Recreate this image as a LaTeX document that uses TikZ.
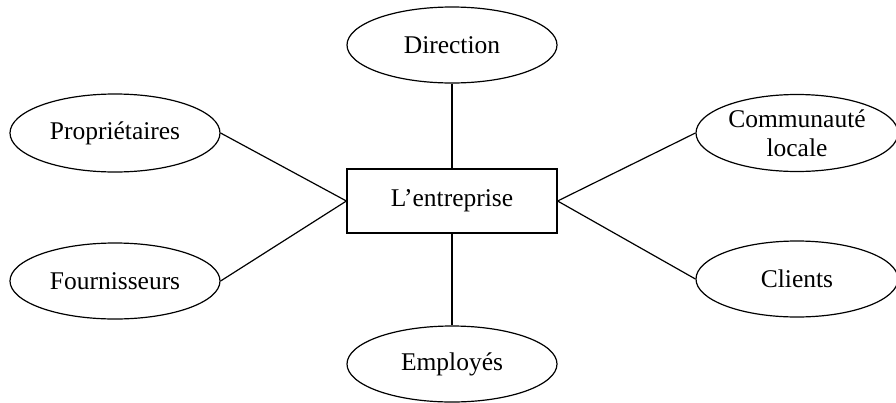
\documentclass[tikz,border=0pt]{standalone}
\usepackage{fontspec}
\setmainfont{Liberation Serif}
\usetikzlibrary{shapes.geometric}
\begin{document}
\begin{tikzpicture}[x=1pt,y=-1pt,
  every node/.style={font=\fontsize{25.5}{29}\selectfont, align=center, inner sep=0pt},
  party/.style={draw, line width=1.2pt, ellipse, minimum width=210pt, minimum height=76pt},
  firm/.style={draw, line width=1.2pt, rectangle, minimum width=210pt, minimum height=64pt},
  link/.style={line width=1.2pt}]
  \useasboundingbox (0,0) rectangle (896,402);

  % central company box
  \node[firm] (ent) at (452,201) {L’entreprise};

  % stakeholders
  \node[party] (dir) at (452,45) {Direction};
  \node[party, minimum height=78pt] (prop) at (115,133) {Propriétaires};
  \node[party] (four) at (115,281) {Fournisseurs};
  \node[party, minimum width=202pt, minimum height=77pt] (comm) at (797,133) {Communauté\\locale};
  \node[party, minimum width=202pt] (cli) at (797,279) {Clients};
  \node[party] (emp) at (452,364) {Employés};

  % links to the company
  \draw[link] (dir.south) -- (ent.north);
  \draw[link] (ent.south) -- (emp.north);
  \draw[link] (prop.east) -- (ent.west);
  \draw[link] (four.east) -- (ent.west);
  \draw[link] (comm.west) -- (ent.east);
  \draw[link] (cli.west) -- (ent.east);
\end{tikzpicture}
\end{document}
